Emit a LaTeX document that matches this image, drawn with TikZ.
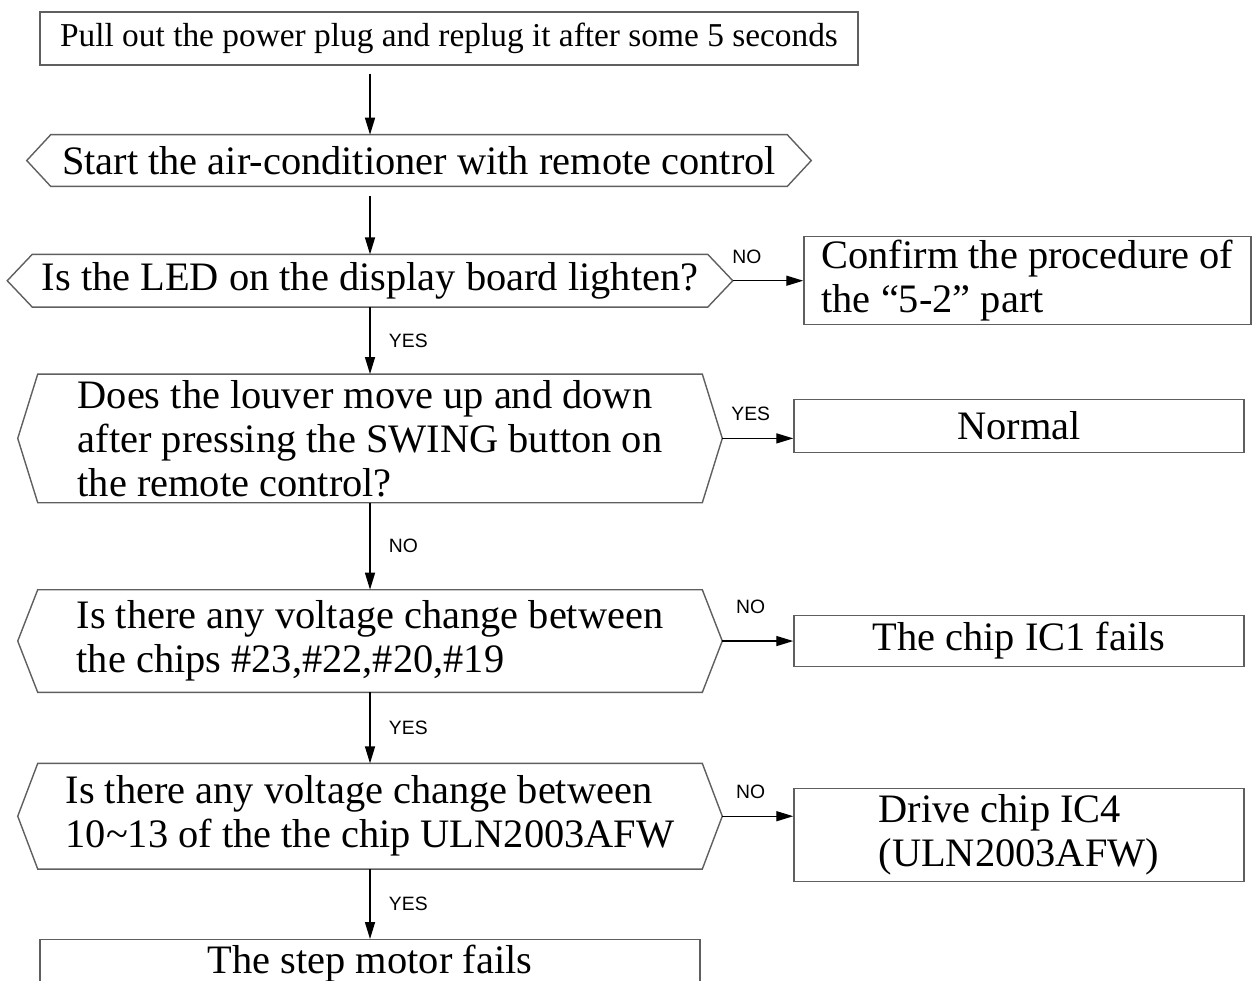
\documentclass[tikz,border=0pt]{standalone}
\usepackage{fontspec}
\setmainfont{Liberation Serif}
\newfontfamily\labelfont{Liberation Sans}
\usetikzlibrary{positioning}
\usetikzlibrary{arrows.meta}
\definecolor{boxgray}{RGB}{95,95,95}
\newcommand\bigtext{\fontsize{23}{25}\selectfont}
\newcommand\hexnode[6][]{%
  \node[hexbox,#1,minimum width=#3cm,minimum height=#4cm] (#2) {#6};
  \draw[shapeline] ([xshift=-#5cm]#2.west) -- (#2.north west) -- (#2.north east)
    -- ([xshift=#5cm]#2.east) -- (#2.south east) -- (#2.south west) -- cycle;
  \coordinate (#2 tip) at ([xshift=#5cm]#2.east);
}

\begin{document}
\begin{tikzpicture}[
x=0.02cm, y=-0.02cm,
>={Triangle[length=3.4mm,width=2mm]},
shapeline/.style={draw=boxgray, line width=0.8pt},
hexbox/.style={inner sep=2pt, font=\bigtext, align=left},
stepbox/.style={rectangle, shapeline, inner sep=2pt, font=\bigtext, align=left},
answer/.style={font=\labelfont\fontsize{11}{13}\selectfont, inner sep=1pt},
flow/.style={->, line width=0.8pt}
]
\clip (0,0) rectangle (1252,981);

\node[stepbox, minimum width=16.36cm, minimum height=1.06cm, font=\fontsize{19}{21}\selectfont] (plug) at (449,38.5) {Pull out the power plug and replug it after some 5 seconds};
\hexnode[below=1.38cm of plug, xshift=-0.6cm]{start}{14.72}{1.02}{0.48}{Start the air-conditioner with remote control}
\hexnode[below=1.36cm of start, xshift=-0.98cm]{led}{13.5}{1.04}{0.5}{Is the LED on the display board lighten?}
\hexnode[below=1.34cm of led]{louver}{13.28}{2.56}{0.4}{Does the louver move up and down\\after pressing the SWING button on\\the remote control?}
\hexnode[below=1.74cm of louver]{chips}{13.28}{2.04}{0.4}{Is there any voltage change between\\the chips \#23,\#22,\#20,\#19}
\hexnode[below=1.42cm of chips]{uln}{13.28}{2.1}{0.4}{Is there any voltage change between\\10\textasciitilde 13 of the the chip ULN2003AFW}
\node[stepbox, below=1.4cm of uln, minimum width=13.2cm, minimum height=0.94cm] (motor) {The step motor fails};

% results on the right
\node[stepbox, right=1.91cm of led, minimum width=8.94cm, minimum height=1.76cm] (confirm) {Confirm the procedure of\\the “5-2” part};
\node[stepbox, right=1.82cm of louver, yshift=0.25cm, minimum width=9cm, minimum height=1.06cm] (normal) {Normal};
\node[stepbox, right=1.82cm of chips, minimum width=9cm, minimum height=1.02cm] (icfail) {The chip IC1 fails};
\node[stepbox, right=1.82cm of uln, yshift=-0.38cm, minimum width=9cm, minimum height=1.86cm] (drive) {Drive chip IC4\\(ULN2003AFW)};

\draw[flow, shorten <=0.16cm] (plug.south -| led.north) -- (start.north -| led.north);
\draw[flow, shorten <=0.2cm] (start.south -| led.north) -- (led.north);
\draw[flow] (led) -- node[answer, right=0.33cm]{YES} (louver);
\draw[flow] (louver) -- node[answer, right=0.33cm]{NO} (chips);
\draw[flow] (chips) -- node[answer, right=0.33cm]{YES} (uln);
\draw[flow] (uln.south) -- node[answer, right=0.33cm]{YES} (uln.south |- motor.north);

\draw[flow] (led tip) -- node[answer, above=0.3cm, pos=0.2]{NO} (confirm);
\draw[flow] (louver tip) -- node[answer, above=0.3cm, pos=0.4]{YES} (louver tip -| normal.west);
\draw[flow] (chips tip) -- node[answer, above=0.5cm, pos=0.4]{NO} (icfail);
\draw[flow] (uln tip) -- node[answer, above=0.3cm, pos=0.4]{NO} (uln tip -| drive.west);
\end{tikzpicture}
\end{document}
